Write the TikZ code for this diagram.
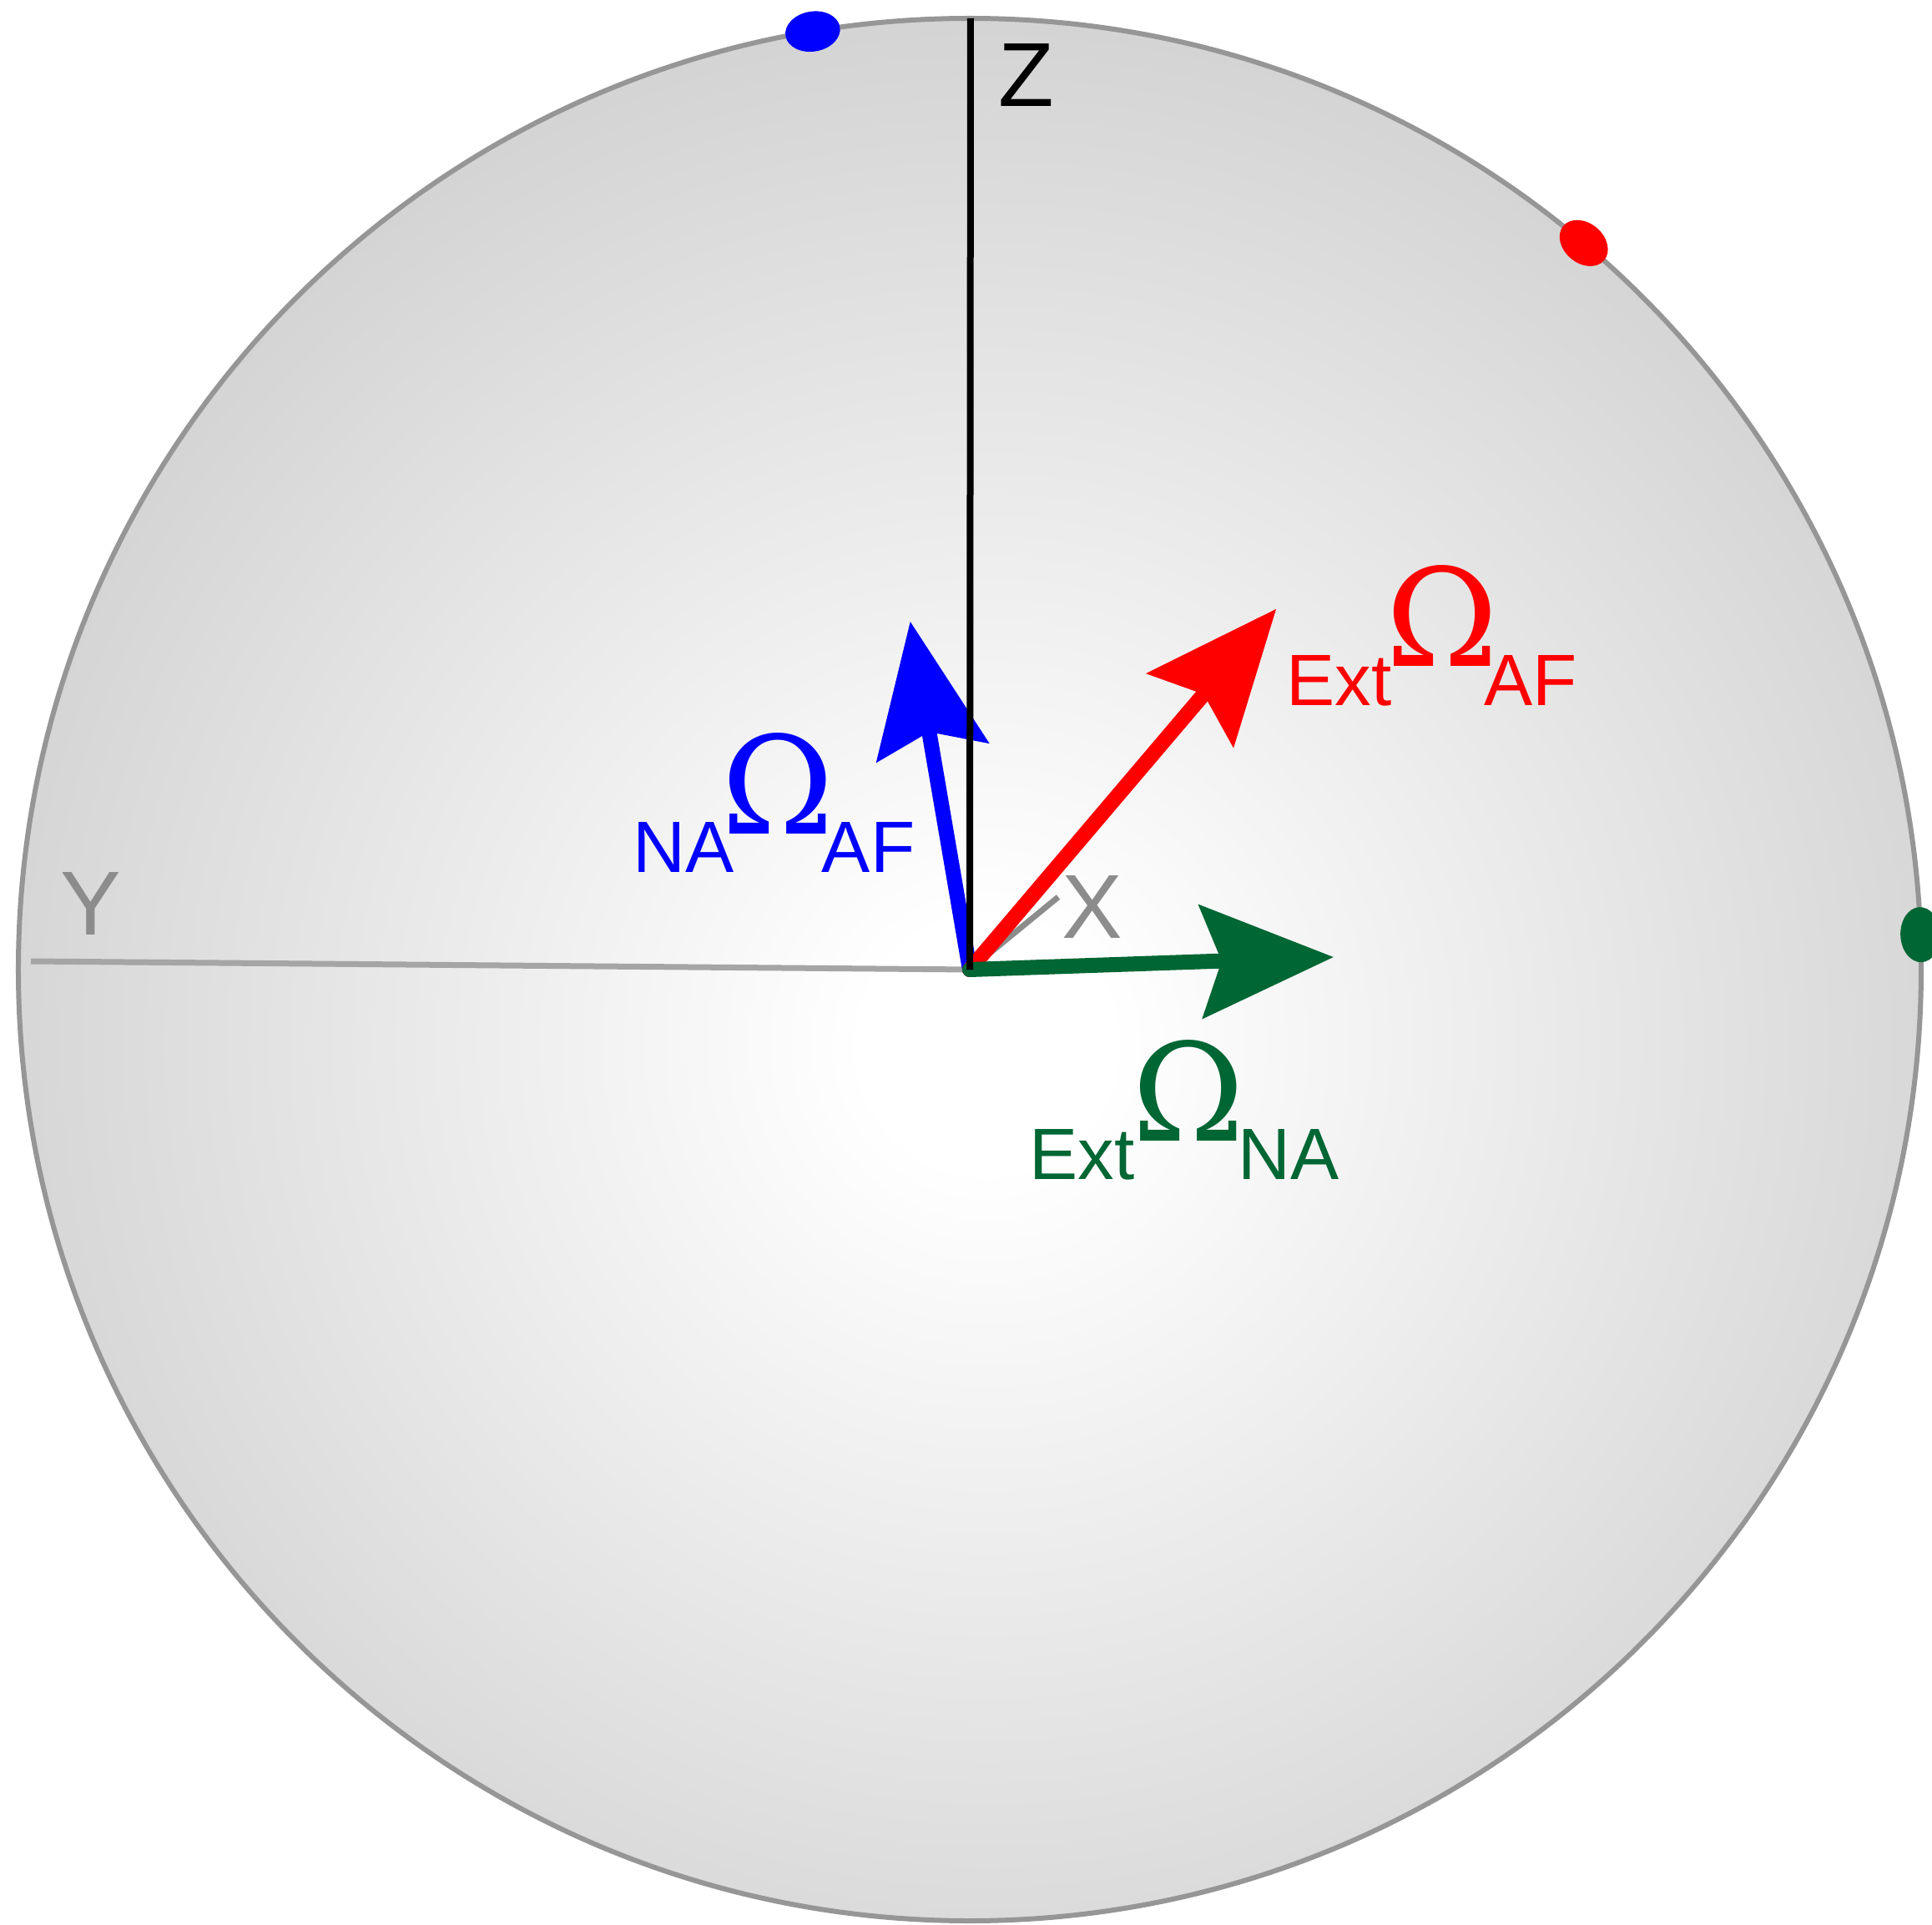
\documentclass[tikz,border=0pt]{standalone}
\usepackage{fontspec}
\usepackage{graphicx}
\setmainfont{Liberation Sans}
\newfontfamily\omegafont{DejaVu Serif}
\usetikzlibrary{arrows.meta}
\definecolor{nacol}  {RGB}{0,   0,   255}
\definecolor{afcol}  {RGB}{255, 0,   0}
\definecolor{extcol} {RGB}{0,   102, 51}
\definecolor{rimcol} {RGB}{150, 150, 150}
\definecolor{axcol}  {RGB}{165, 165, 165}
\definecolor{axtext} {RGB}{140, 140, 140}
\pgfdeclareradialshading{sphereglow}{\pgfpoint{0bp}{0bp}}%
  {color(0bp)=(white); color(3bp)=(white); color(25bp)=(black!17); color(50bp)=(black!17)}
% #1 前, #2 後, #3/#4 Ω の前後の詰め
\newcommand{\omlabel}[4]{#1\kern#3\raisebox{0.46cm}{\resizebox{!}{1.21cm}{\omegafont Ω}}\kern#4#2}

\begin{document}
\begin{tikzpicture}[
  vec/.style={line width=0.18cm, line cap=round,
    -{Stealth[length=1.6cm, width=1.38cm, inset=0.26cm, line width=0pt]}},
  omlab/.style={font=\fontsize{24.8}{30}\selectfont, inner sep=0pt, anchor=base west},
  axlab/.style={font=\fontsize{31}{36}\selectfont, inner sep=0pt},
]
\useasboundingbox (-11.62,-11.44) rectangle (11.53,11.62);

% ── 球 ───────────────────────────────────────────────
\begin{scope}
  \clip (0,0) circle (11.40);
  \shade[shading=sphereglow] (0.2,-0.9) circle (12.3);
\end{scope}
\draw[rimcol, line width=0.06cm] (0,0) circle (11.40);

% ── 座標軸 ───────────────────────────────────────────
\coordinate (O)    at (0,0);
\coordinate (zTop) at (0.01,11.40);
\coordinate (yEnd) at (-11.25,0.10);
\coordinate (xEnd) at (1.06,0.87);

\draw[axcol, line width=0.07cm] (O) -- (yEnd);
\draw[axtext, line width=0.07cm] (O) -- (xEnd);

\node[axlab, axtext] (ylab) at (-10.53,0.79) {Y};
\node[axlab, axtext] (xlab) at (1.47,0.75)   {X};
\node[axlab, black]  (zlab) at (0.68,10.72)  {Z};

% ── ベクトル ─────────────────────────────────────────
\coordinate (naTip)  at (99.7:4.23);
\coordinate (afTip)  at (49.65:5.67);
\coordinate (extTip) at (1.97:4.36);

\draw[vec, nacol]  (O) -- (naTip);
\draw[vec, afcol]  (O) -- (afTip);
\draw[vec, extcol] (O) -- (extTip);

\draw[black, line width=0.08cm] (O) -- (zTop);

% ラベル
\node[omlab, nacol]  (naLab)  at (-4.04,1.17) {\omlabel{NA}{AF}{-0.15cm}{-0.15cm}};
\node[omlab, afcol]  (afLab)  at (3.79,3.17)  {\omlabel{Ext}{AF}{-0.07cm}{-0.17cm}};
\node[omlab, extcol] (extLab) at (0.71,-2.51) {\omlabel{Ext}{NA}{-0.03cm}{-0.08cm}};

% ── 球面上の点 ───────────────────────────────────────
\coordinate (naDot)  at (99.5:11.40);
\coordinate (afDot)  at (49.8:11.40);
\coordinate (extDot) at (2.1:11.40);

\fill[nacol,  rotate around={9.5:(naDot)}]   (naDot)  ellipse (0.33 and 0.24);
\fill[afcol,  rotate around={-40.2:(afDot)}] (afDot)  ellipse (0.32 and 0.24);
\fill[extcol, rotate around={-87.9:(extDot)}] (extDot) ellipse (0.33 and 0.24);

\end{tikzpicture}
\end{document}
